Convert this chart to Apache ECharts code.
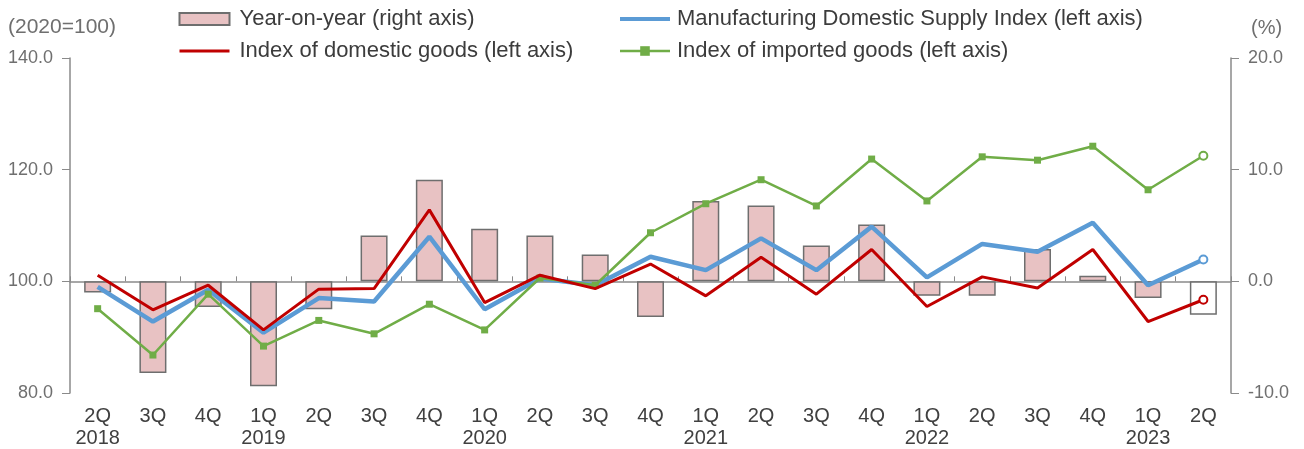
<!DOCTYPE html>
<html>
<head>
<meta charset="utf-8">
<script src="https://cdn.jsdelivr.net/npm/echarts@6/dist/echarts.min.js"></script>
<style>
html,body{margin:0;padding:0;background:#fff;}
#c{width:1304px;height:449px;}
</style>
</head>
<body>
<div id="c"></div>
<script>
const categories = ['2Q\n2018','3Q','4Q','1Q\n2019','2Q','3Q','4Q','1Q\n2020','2Q','3Q','4Q','1Q\n2021','2Q','3Q','4Q','1Q\n2022','2Q','3Q','4Q','1Q\n2023','2Q'];
const yoy = [-1.0,-8.2,-2.3,-9.4,-2.5,4.1,9.1,4.7,4.1,2.4,-3.2,7.2,6.8,3.2,5.1,-1.3,-1.3,2.9,0.5,-1.5,-3.0];
const manufacturing = [99.0,92.8,98.5,90.8,97.0,96.4,108.0,95.0,100.5,99.3,104.4,102.0,107.7,102.0,109.8,100.7,106.7,105.3,110.5,99.3,103.9];
const domestic = [101.1,94.9,99.3,91.3,98.6,98.7,112.8,96.2,101.1,98.7,103.1,97.4,104.3,97.7,105.7,95.5,100.8,98.8,105.7,92.8,96.7];
const imported = [95.1,86.8,97.7,88.4,93.0,90.6,95.9,91.3,100.6,99.3,108.7,113.9,118.2,113.5,121.9,114.4,122.3,121.7,124.2,116.4,122.5];
const leftTicks = {min:80, max:140, interval:20};
const rightTicks = {min:-10, max:20, interval:10};

const FONT = 'Liberation Sans, Arial, sans-serif';
const names = {
  yoy: 'Year-on-year (right axis)',
  man: 'Manufacturing Domestic Supply Index (left axis)',
  dom: 'Index of domestic goods (left axis)',
  imp: 'Index of imported goods (left axis)'
};
const BLUE = '#5B9BD5', RED = '#C00000', GREEN = '#70AD47';
function lastHollow(arr){
  return arr.map((v,i)=> i===arr.length-1 ? {value:v, symbol:'emptyCircle', symbolSize:8} : v);
}
const hiddenSym = {color:'rgba(0,0,0,0)', borderColor:'rgba(0,0,0,0)', borderWidth:0};
const legendText = {fontSize:22, color:'#3c3c3c', lineHeight:24, padding:[0,0,0,5], fontFamily:FONT};
const chart = echarts.init(document.getElementById('c'), null, {renderer:'canvas'});
chart.setOption({
  animation:false,
  backgroundColor:'#ffffff',
  textStyle:{fontFamily:FONT},
  grid:{left:70, right:73, top:58, bottom:56},
  legend:[
    {left:173, top:2, orient:'vertical', itemWidth:50, itemHeight:12, itemGap:8,
     textStyle:legendText,
     data:[{name:names.yoy, icon:'rect'},
           {name:names.dom, itemStyle:hiddenSym, lineStyle:{color:RED, width:3}}]},
    {left:613, top:2, orient:'vertical', itemWidth:50, itemHeight:12, itemGap:8,
     textStyle:Object.assign({}, legendText, {padding:[0,0,0,2]}),
     data:[{name:names.man, itemStyle:hiddenSym, lineStyle:{color:BLUE, width:4}},
           {name:names.imp, lineStyle:{color:GREEN, width:2.5}}]}
  ],
  xAxis:[
    {type:'category', data:categories, position:'bottom', boundaryGap:true,
     axisLine:{show:false}, axisTick:{show:false},
     axisLabel:{color:'#404040', fontSize:20, lineHeight:22, margin:12, interval:0, fontFamily:FONT}},
    {type:'category', data:categories, position:'bottom', boundaryGap:true,
     axisLine:{show:true, onZero:true, onZeroAxisIndex:1, lineStyle:{color:'#8a8a8a', width:1.5}},
     axisTick:{show:true, inside:true, length:5, lineStyle:{color:'#8a8a8a'}},
     axisLabel:{show:false}}
  ],
  yAxis:[
    {type:'value', position:'left', min:leftTicks.min, max:leftTicks.max, interval:leftTicks.interval,
     name:'(2020=100)', nameLocation:'end', nameGap:20,
     nameTextStyle:{color:'#6f6f6f', fontSize:21, align:'center', padding:[0,16,0,0], fontFamily:FONT},
     axisLine:{show:true, lineStyle:{color:'#8a8a8a', width:1.5}},
     axisTick:{show:true, inside:false, length:8, lineStyle:{color:'#8a8a8a'}},
     splitLine:{show:false},
     axisLabel:{color:'#6f6f6f', fontSize:18, margin:17, formatter:v=>v.toFixed(1), fontFamily:FONT}},
    {type:'value', position:'right', min:rightTicks.min, max:rightTicks.max, interval:rightTicks.interval,
     name:'(%)', nameLocation:'end', nameGap:20,
     nameTextStyle:{color:'#6f6f6f', fontSize:20, align:'left', padding:[0,0,0,20], fontFamily:FONT},
     axisLine:{show:true, lineStyle:{color:'#8a8a8a', width:1.5}},
     axisTick:{show:true, inside:false, length:8, lineStyle:{color:'#8a8a8a'}},
     splitLine:{show:false},
     axisLabel:{color:'#6f6f6f', fontSize:18, margin:17, formatter:v=>v.toFixed(1), fontFamily:FONT}}
  ],
  series:[
    {name:names.yoy, type:'bar', xAxisIndex:0, yAxisIndex:1, barWidth:27,
     itemStyle:{color:'#E8C2C3', borderColor:'#6e6e6e', borderWidth:1.5},
     data: yoy.map((v,i)=> i===yoy.length-1 ? {value:v, itemStyle:{color:'#ffffff'}} : v), z:1},
    {name:names.man, type:'line', xAxisIndex:0, yAxisIndex:0, symbol:'none', showSymbol:true,
     lineStyle:{color:BLUE, width:4.5}, itemStyle:{color:BLUE},
     data:lastHollow(manufacturing), z:3},
    {name:names.imp, type:'line', xAxisIndex:0, yAxisIndex:0, symbol:'rect', symbolSize:7, showSymbol:true,
     lineStyle:{color:GREEN, width:2.5}, itemStyle:{color:GREEN},
     data:lastHollow(imported), z:4},
    {name:names.dom, type:'line', xAxisIndex:0, yAxisIndex:0, symbol:'none', showSymbol:true,
     lineStyle:{color:RED, width:3}, itemStyle:{color:RED},
     data:lastHollow(domestic), z:5}
  ]
});
</script>
</body>
</html>
